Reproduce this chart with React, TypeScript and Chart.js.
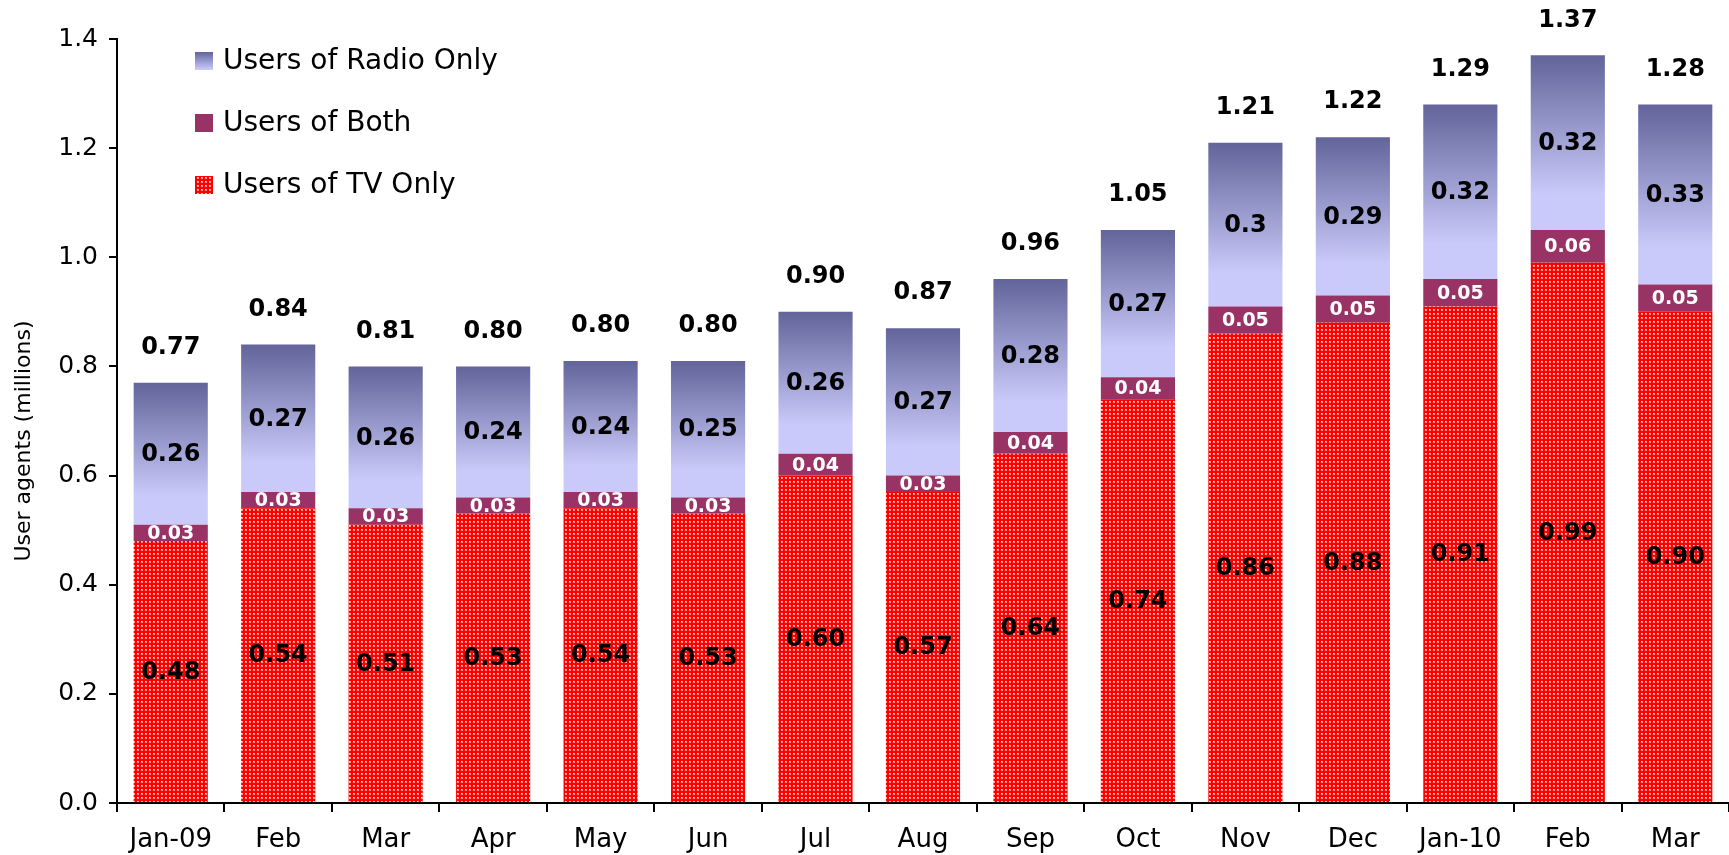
import React, { useEffect, useRef } from "react";
import { Chart, registerables } from "chart.js";

Chart.register(...registerables);

const categories = ["Jan-09", "Feb", "Mar", "Apr", "May", "Jun", "Jul", "Aug", "Sep", "Oct", "Nov", "Dec", "Jan-10", "Feb", "Mar"];
const tvOnly = [0.48, 0.54, 0.51, 0.53, 0.54, 0.53, 0.60, 0.57, 0.64, 0.74, 0.86, 0.88, 0.91, 0.99, 0.90];
const both = [0.03, 0.03, 0.03, 0.03, 0.03, 0.03, 0.04, 0.03, 0.04, 0.04, 0.05, 0.05, 0.05, 0.06, 0.05];
const radioOnly = [0.26, 0.27, 0.26, 0.24, 0.24, 0.25, 0.26, 0.27, 0.28, 0.27, 0.3, 0.29, 0.32, 0.32, 0.33];
const tvLabels = ["0.48", "0.54", "0.51", "0.53", "0.54", "0.53", "0.60", "0.57", "0.64", "0.74", "0.86", "0.88", "0.91", "0.99", "0.90"];
const bothLabels = ["0.03", "0.03", "0.03", "0.03", "0.03", "0.03", "0.04", "0.03", "0.04", "0.04", "0.05", "0.05", "0.05", "0.06", "0.05"];
const radioLabels = ["0.26", "0.27", "0.26", "0.24", "0.24", "0.25", "0.26", "0.27", "0.28", "0.27", "0.3", "0.29", "0.32", "0.32", "0.33"];
const totalLabels = ["0.77", "0.84", "0.81", "0.80", "0.80", "0.80", "0.90", "0.87", "0.96", "1.05", "1.21", "1.22", "1.29", "1.37", "1.28"];
const seriesNames = ["Users of TV Only", "Users of Both", "Users of Radio Only"];
const yTitle = "User agents (millions)";

const FONT = "'DejaVu Sans', Verdana, sans-serif";
const RED = "#FF0000";
const MAROON = "#993366";
const DARK = "#62649A";
const LIGHT = "#CACAFA";

function makePattern(): CanvasPattern | string {
  const c = document.createElement("canvas");
  c.width = 4;
  c.height = 4;
  const g = c.getContext("2d");
  if (!g) return RED;
  g.fillStyle = RED;
  g.fillRect(0, 0, 4, 4);
  g.fillStyle = "#FF9A9A";
  g.fillRect(1, 1, 2, 2);
  g.fillStyle = "#FFEAEA";
  g.fillRect(1, 1, 1, 1);
  const p = g.createPattern(c, "repeat");
  return p || RED;
}

const labelPlugin = {
  id: "segLabels",
  afterDatasetsDraw(chart: any) {
    const ctx = chart.ctx;
    ctx.save();
    ctx.textAlign = "center";
    ctx.textBaseline = "middle";
    const lbls = [tvLabels, bothLabels, radioLabels];
    chart.data.datasets.forEach((_ds: any, di: number) => {
      const meta = chart.getDatasetMeta(di);
      meta.data.forEach((el: any, i: number) => {
        const cy = (el.y + el.base) / 2;
        if (di === 1) {
          ctx.font = `bold 19px ${FONT}`;
          ctx.fillStyle = "#FFFFFF";
        } else {
          ctx.font = `bold 24px ${FONT}`;
          ctx.fillStyle = "#000000";
        }
        ctx.fillText(lbls[di][i], el.x, cy + 1);
        if (di === 2) {
          ctx.font = `bold 24px ${FONT}`;
          ctx.fillStyle = "#000000";
          ctx.fillText(totalLabels[i], el.x, el.y - 35);
        }
      });
    });
    // y-axis title
    ctx.save();
    ctx.translate(24, 441);
    ctx.rotate(-Math.PI / 2);
    ctx.font = `22px ${FONT}`;
    ctx.fillStyle = "#000000";
    ctx.textAlign = "center";
    ctx.textBaseline = "middle";
    ctx.fillText(yTitle, 0, 0);
    ctx.restore();
    // legend
    const items = [
      { name: seriesNames[2], y: 61, kind: "grad" },
      { name: seriesNames[1], y: 123, kind: "maroon" },
      { name: seriesNames[0], y: 185, kind: "pattern" },
    ];
    const pat = makePattern();
    items.forEach((it) => {
      const x0 = 195, s = 18, y0 = it.y - 9;
      if (it.kind === "grad") {
        const g = ctx.createLinearGradient(0, y0, 0, y0 + s);
        g.addColorStop(0, DARK);
        g.addColorStop(1, "#CCCCFF");
        ctx.fillStyle = g;
      } else if (it.kind === "maroon") {
        ctx.fillStyle = MAROON;
      } else {
        ctx.fillStyle = pat;
      }
      ctx.fillRect(x0, y0, s, s);
      ctx.font = `28px ${FONT}`;
      ctx.fillStyle = "#000000";
      ctx.textAlign = "left";
      ctx.fillText(it.name, 223, it.y + 1);
    });
    ctx.restore();
  },
};

export default function App() {
  const ref = useRef<HTMLCanvasElement | null>(null);
  useEffect(() => {
    if (!ref.current) return;
    const pattern = makePattern();
    const radioBg = (c: any) => {
      const chart = c.chart;
      const y = chart.scales && chart.scales.y;
      if (!y || c.type !== "data") return LIGHT;
      const i = c.dataIndex;
      const top = y.getPixelForValue(tvOnly[i] + both[i] + radioOnly[i]);
      const bot = y.getPixelForValue(tvOnly[i] + both[i]);
      if (!isFinite(top) || !isFinite(bot) || top === bot) return LIGHT;
      const g = chart.ctx.createLinearGradient(0, top, 0, bot);
      g.addColorStop(0, DARK);
      g.addColorStop(0.8, LIGHT);
      g.addColorStop(1, LIGHT);
      return g;
    };
    const chart = new Chart(ref.current, {
      type: "bar",
      data: {
        labels: categories,
        datasets: [
          { label: seriesNames[0], data: tvOnly, backgroundColor: pattern as any, borderWidth: 0 },
          { label: seriesNames[1], data: both, backgroundColor: MAROON, borderWidth: 0 },
          { label: seriesNames[2], data: radioOnly, backgroundColor: radioBg as any, borderWidth: 0 },
        ],
      },
      options: {
        animation: false,
        responsive: true,
        maintainAspectRatio: false,
        layout: { padding: { top: 39, right: 0, left: 0, bottom: 0 } },
        datasets: { bar: { categoryPercentage: 1, barPercentage: 0.69 } },
        plugins: { legend: { display: false }, tooltip: { enabled: false } },
        scales: {
          x: {
            stacked: true,
            offset: true,
            grid: { display: true, drawOnChartArea: false, drawTicks: true, tickLength: 9, color: "#000", lineWidth: 2, offset: true },
            border: { display: true, color: "#000", width: 2 },
            ticks: { color: "#000", font: { family: FONT, size: 26 }, padding: 13, maxRotation: 0, autoSkip: false },
            afterFit: (s: any) => { s.height = 52; },
          },
          y: {
            stacked: true,
            min: 0,
            max: 1.4,
            grid: { display: true, drawOnChartArea: false, drawTicks: true, tickLength: 8, color: "#000", lineWidth: 2 },
            border: { display: true, color: "#000", width: 2 },
            ticks: { stepSize: 0.2, color: "#000", font: { family: FONT, size: 25 }, padding: 11, callback: (v: any) => Number(v).toFixed(1) },
            afterFit: (s: any) => { s.width = 117; },
          },
        },
      },
      plugins: [labelPlugin],
    });
    return () => chart.destroy();
  }, []);
  return (
    <div style={{ position: "fixed", left: 0, top: 0, width: 1729, height: 855, background: "#fff" }}>
      <canvas ref={ref} />
    </div>
  );
}
